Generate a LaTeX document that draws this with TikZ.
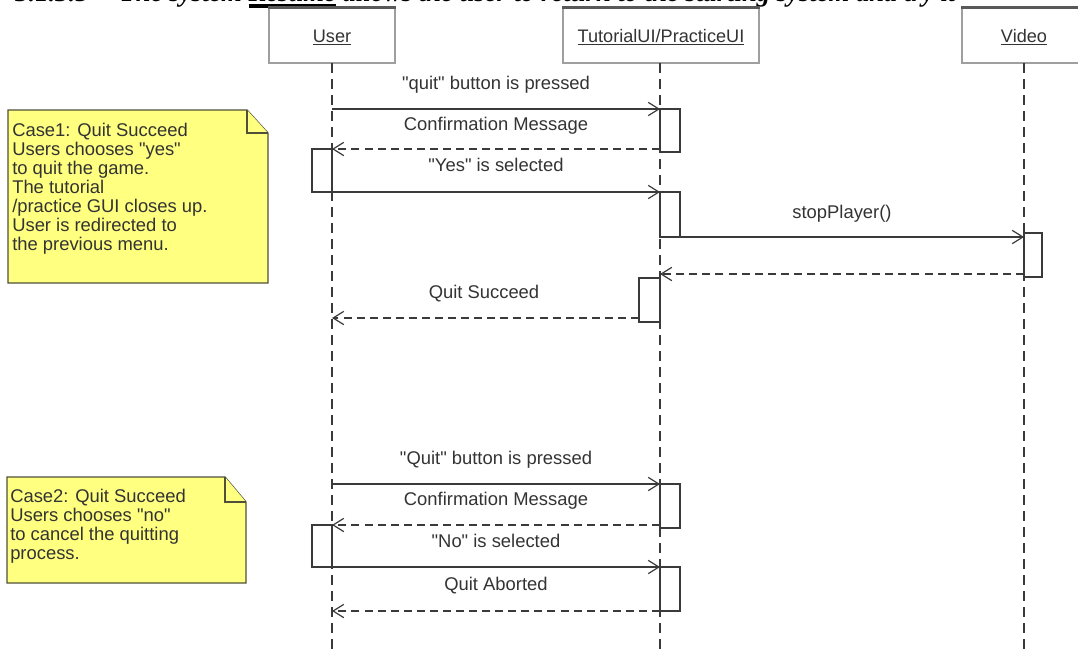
\documentclass[tikz,border=0pt]{standalone}
\usepackage{fontspec}
\setmainfont{Liberation Sans}[Ligatures=TeXOff]
\newfontfamily\titlefont{Liberation Serif}
\usetikzlibrary{arrows.meta}
\definecolor{ln}{HTML}{3A3A3A}
\definecolor{notefill}{HTML}{FFFF80}
\definecolor{noteline}{HTML}{50503A}
\definecolor{txt}{HTML}{333333}
\newcommand{\thickul}[1]{\setbox0\hbox{#1}\rlap{\rule[-5pt]{\wd0}{3pt}}\box0\relax}
\newcommand{\qt}[1]{"#1"}
\begin{document}
\begin{tikzpicture}[x=0.75pt,y=-0.75pt,
  lifeline/.style={draw=ln, line width=1pt, dash pattern=on 7.5pt off 4.5pt},
  msg/.style={draw=ln, line width=0.9pt, -{Straight Barb[length=8pt,width=10pt,line width=0.9pt]}},
  ret/.style={msg, dash pattern=on 6pt off 3.8pt},
  act/.style={draw=ln, line width=1pt, fill=white},
  headbox/.style={draw=gray!75, line width=1pt, fill=white, inner sep=0pt},
  headtop/.style={draw=black!65, line width=2pt},
  headlbl/.style={font=\fontsize{13.6}{15}\selectfont, text=txt, anchor=base, inner sep=0pt},
  lbl/.style={font=\fontsize{13.8}{15}\selectfont, text=txt, anchor=base, inner sep=0pt},
  note/.style={draw=noteline, line width=1pt, fill=notefill},
  notetext/.style={font=\fontsize{13.8}{14.25}\selectfont, text=txt, align=left, anchor=north west, inner sep=0pt}
]
\useasboundingbox (0,0) rectangle (1078,654);

% clipped title line
\begin{scope}
\clip (0,0) rectangle (1078,654);
\node[anchor=base west, inner sep=0pt, font=\titlefont\fontsize{20}{20}\selectfont\bfseries\itshape] (title) at (15,1) {3.1.3.5 -- The system \thickul{Resume} allows the user to return to the starting system and try it};
\end{scope}

% lifeline heads
\node[headbox, minimum width=94.5pt, minimum height=41.25pt] (userhead) at (332,35.5) {};
\node[headbox, minimum width=147pt, minimum height=41.25pt] (tuihead) at (661,35.5) {};
\node[headbox, minimum width=93pt, minimum height=41.25pt] (videohead) at (1024,35.5) {};
\draw[headtop] (userhead.north west) -- (userhead.north east);
\draw[headtop] (tuihead.north west) -- (tuihead.north east);
\draw[headtop] (videohead.north west) -- (videohead.north east);
\node[headlbl] (userlbl) at (332,42) {\underline{User}};
\node[headlbl] (tuilbl) at (661,42) {\underline{TutorialUI/PracticeUI}};
\node[headlbl] (videolbl) at (1024,42) {\underline{Video}};

% lifeline ends
\coordinate (userend) at (332,654);
\coordinate (tuiend) at (660,654);
\coordinate (videoend) at (1024,654);
\draw[lifeline] (332,63) -- (userend);
\draw[lifeline] (660,63) -- (tuiend);
\draw[lifeline] (1024,63) -- (videoend);

% activations
\draw[act] (660,109) rectangle (680,152);
\draw[act] (312,149) rectangle (332,192);
\draw[act] (660,192) rectangle (680,237);
\draw[act] (1024,233) rectangle (1042,277);
\draw[act] (639,278) rectangle (660,322);
\draw[act] (660,484) rectangle (680,528);
\draw[act] (312,525) rectangle (332,567);
\draw[act] (660,567) rectangle (680,611);

% message end points
\coordinate (u1) at (332,109); \coordinate (t1) at (660,109);
\coordinate (t2) at (660,149); \coordinate (u2) at (332,149);
\coordinate (u3) at (332,192); \coordinate (t3) at (660,192);
\coordinate (t4) at (660,237); \coordinate (v4) at (1024,237);
\coordinate (v5) at (1024,274); \coordinate (t5) at (660,274);
\coordinate (t6) at (639,318); \coordinate (u6) at (332,318);
\coordinate (u7) at (332,484); \coordinate (t7) at (660,484);
\coordinate (t8) at (660,525); \coordinate (u8) at (332,525);
\coordinate (u9) at (332,567); \coordinate (t9) at (660,567);
\coordinate (t10) at (660,611); \coordinate (u10) at (332,611);

% messages
\draw[msg] (u1) -- (t1);
\draw[ret] (t2) -- (u2);
\draw[msg] (u3) -- (t3);
\draw[msg] (t4) -- (v4);
\draw[ret] (v5) -- (t5);
\draw[ret] (t6) -- (u6);
\draw[msg] (u7) -- (t7);
\draw[ret] (t8) -- (u8);
\draw[msg] (u9) -- (t9);
\draw[ret] (t10) -- (u10);

% message labels
\node[lbl] (l1) at (496,89) {\qt{quit} button is pressed};
\node[lbl] (l2) at (496,130) {Confirmation Message};
\node[lbl] (l3) at (496,171) {\qt{Yes} is selected};
\node[lbl] (l4) at (842,218) {stopPlayer()};
\node[lbl] (l6) at (484,298) {Quit Succeed};
\node[lbl] (l7) at (496,464) {\qt{Quit} button is pressed};
\node[lbl] (l8) at (496,505) {Confirmation Message};
\node[lbl] (l9) at (496,547) {\qt{No} is selected};
\node[lbl] (l10) at (496,590) {Quit Aborted};

% notes
\draw[note] (8,110) -- (247,110) -- (268,133) -- (268,283) -- (8,283) -- cycle;
\draw[note] (247,110) -- (247,133) -- (268,133);
\node[notetext] (note1) at (12,123) {Case1: Quit Succeed\\Users chooses \qt{yes}\\to quit the game.\\The tutorial\\/practice GUI closes up.\\User is redirected to\\the previous menu.};

\draw[note] (7,477) -- (225,477) -- (246,502) -- (246,583) -- (7,583) -- cycle;
\draw[note] (225,477) -- (225,502) -- (246,502);
\node[notetext] (note2) at (10,489) {Case2: Quit Succeed\\Users chooses \qt{no}\\to cancel the quitting\\process.};
\end{tikzpicture}
\end{document}
